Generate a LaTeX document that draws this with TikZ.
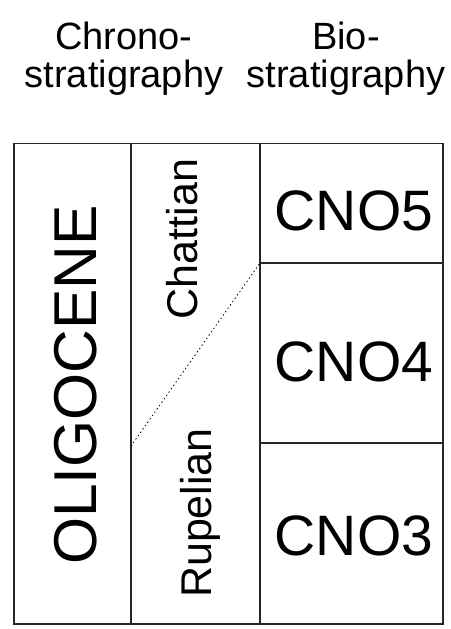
\documentclass[tikz,border=0pt]{standalone}
\usepackage{fontspec}
\setmainfont{Liberation Sans}
\begin{document}
\begin{tikzpicture}[x=1pt,y=-1pt,
  frame/.style={line width=1.5pt, draw=black!85},
  grid/.style={line width=1.2pt, draw=black!85},
  bound/.style={line width=0.9pt, draw=black, dash pattern=on 0.9pt off 3.2pt, line cap=round},
  hdr/.style={font=\fontsize{38}{40}\selectfont, anchor=base, inner sep=0pt},
  epoch/.style={font=\fontsize{60.5}{62}\selectfont, anchor=base, inner sep=0pt, rotate=90},
  stage/.style={font=\fontsize{43}{44}\selectfont, anchor=base, inner sep=0pt, rotate=90},
  zone/.style={font=\fontsize{57}{58}\selectfont, anchor=base, inner sep=0pt}]
\useasboundingbox (0,0) rectangle (450,629);
% headers
\node[hdr] (chronoA) at (124,49) {Chrono-};
\node[hdr] (chronoB) at (124,87) {stratigraphy};
\node[hdr] (bioA) at (346,49) {Bio-};
\node[hdr] (bioB) at (346,87) {stratigraphy};
% table corners
\coordinate (tl) at (14,143.5);
\coordinate (tr) at (443,143.5);
\coordinate (bl) at (14,624);
\coordinate (br) at (443,624);
\coordinate (v1t) at (131,143.5);
\coordinate (v1b) at (131,624);
\coordinate (v2t) at (260,143.5);
\coordinate (v2b) at (260,624);
\coordinate (h1l) at (260,263);
\coordinate (h1r) at (443,263);
\coordinate (h2l) at (260,443);
\coordinate (h2r) at (443,443);
\coordinate (dotA) at (131,446);
% lines
\draw[grid] (v1t) -- (v1b);
\draw[grid] (v2t) -- (v2b);
\draw[grid] (h1l) -- (h1r);
\draw[grid] (h2l) -- (h2r);
\draw[bound] (dotA) -- (h1l);
\draw[frame] (tl) -- (tr) -- (br) -- (bl) -- cycle;
% texts
\node[epoch] (oligo) at (96,385) {OLIGOCENE};
\node[stage] (chatt) at (197,239) {Chattian};
\node[stage] (rupel) at (211,513) {Rupelian};
\node[zone] (cno5) at (354,230) {CNO5};
\node[zone] (cno4) at (354,381) {CNO4};
\node[zone] (cno3) at (354,555) {CNO3};
\end{tikzpicture}
\end{document}
